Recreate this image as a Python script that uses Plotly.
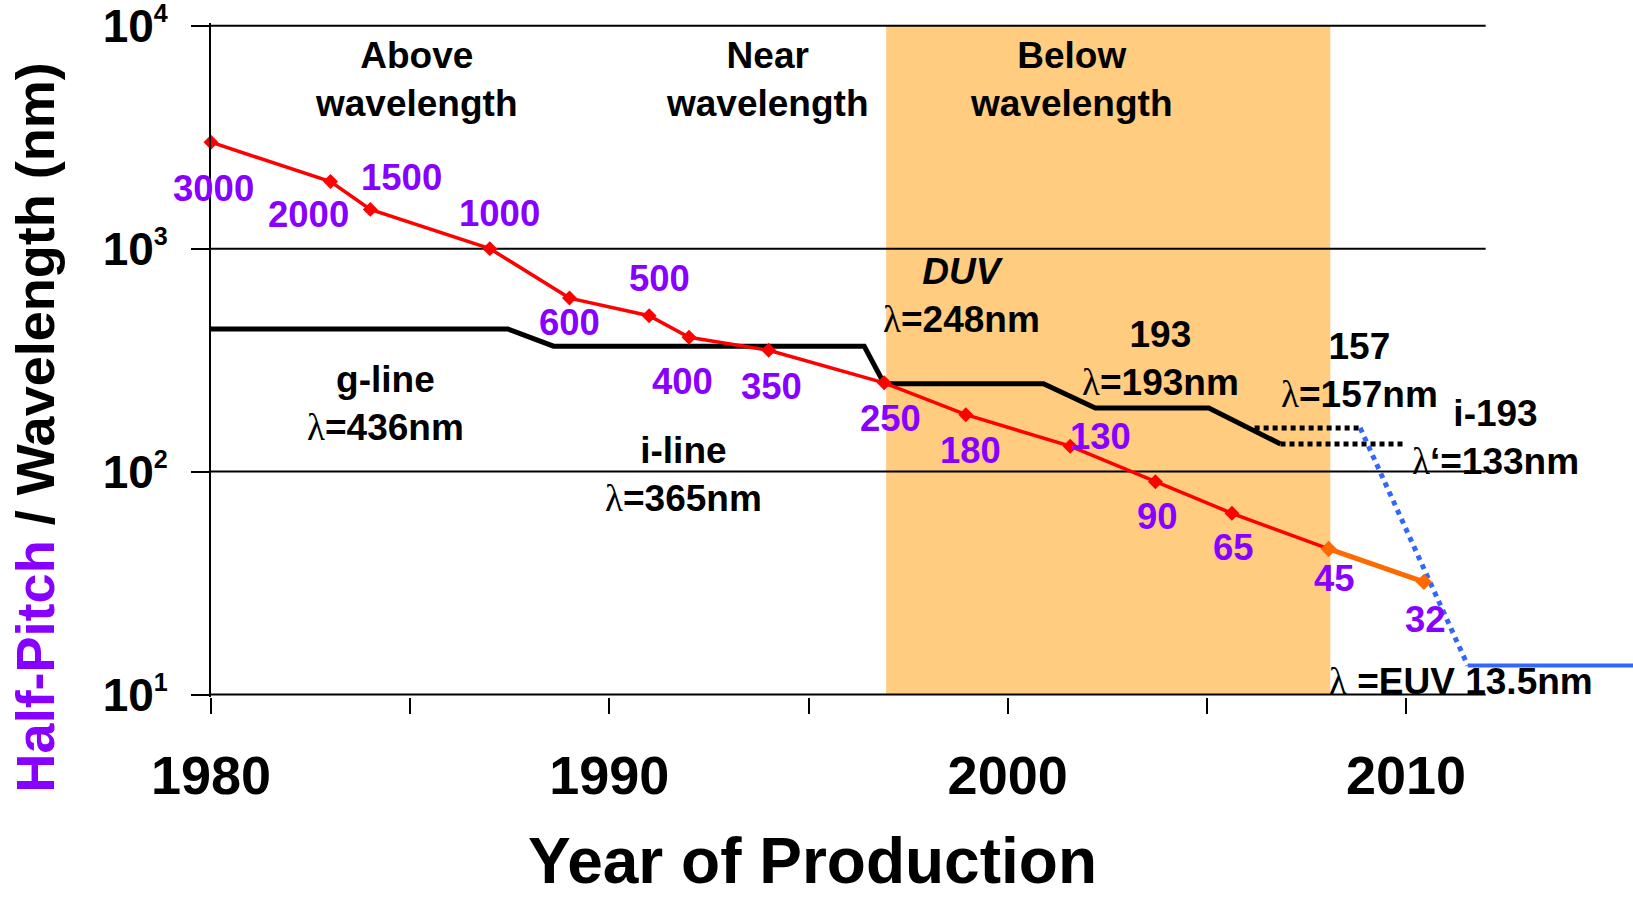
import math
import plotly.graph_objects as go

# ---------------- data ----------------
# Half-pitch roadmap nodes (nm) by year of production
hp_years = [1980, 1983, 1984, 1987, 1989, 1991, 1992, 1994, 1996.9, 1998.95,
            2001.57, 2003.71, 2005.63, 2008.06, 2010.45]
hp_nm = [3000, 2000, 1500, 1000, 600, 500, 400, 350, 250, 180, 130, 90, 65, 45, 32]
hp_labels = [str(v) for v in hp_nm]
n_red = 14  # nodes on the red segment (through 45 nm); 45 -> 32 is the orange segment

# Exposure wavelength steps (nm): g-line, i-line, KrF 248, ArF 193
litho_years = [1980, 1987.45, 1988.6, 1996.4, 1996.9, 2000.9, 2002.2, 2005.05, 2006.85]
litho_nm = [436, 436, 365, 365, 248, 248, 193, 193, 133]

# Alternatives after 193 nm
f2_years, f2_nm = [2006.2, 2008.85], [157, 157]
i193_years, i193_nm = [2006.85, 2009.95], [133, 133]
euv_ramp_years, euv_ramp_nm = [2008.85, 2011.55], [157, 13.5]
euv_years, euv_nm = [2011.55, 2016.5], [13.5, 13.5]

# "Below wavelength" era
below_era = [1996.95, 2008.1]

grid_decades = [10, 100, 1000, 10000]
grid_span = [1980, 2012]

x_tickvals = [1980, 1985, 1990, 1995, 2000, 2005, 2010]
x_ticktext = ["1980", "", "1990", "", "2000", "", "2010"]
y_tickvals = [10, 100, 1000, 10000]
y_exponents = ["1", "2", "3", "4"]

# ---------------- styling / layout ----------------
W, H = 1633, 897
ML, MR, MT, MB = 211, 0, 23, 200
X_RANGE = [1980, 2015.699]
Y_RANGE = [0.9888, 4.0121]

FONT = "Liberation Sans, Arial, Helvetica, sans-serif"
PURPLE = "#8800FF"
RED = "#FF0000"
ORANGE = "#FF6A00"
BLUE = "#3366FF"
SHADE = "#FFCC80"
LAMBDA = '<span style="font-family:Liberation Serif, Times New Roman, serif;font-weight:normal">λ</span>'

y_ticktext = ['10<sup><span style="font-size:78%%">%s</span></sup>' % e for e in y_exponents]

# label offsets from each node, in pixels (right, down)
hp_label_dx = [2, -22, 31, 10, 0, 10, -7, 3, 6, 4.5, 30, 2, 1.6, 6, 2]
hp_label_dy = [46, 33, -32, -35, 24, -37.5, 44, 36, 36, 35.5, -10, 34.5, 34, 30, 38]


def paper(px, py):
    """Canvas pixel -> paper coordinates."""
    return (px - ML) / (W - ML - MR), (H - MB - py) / (H - MT - MB)


fig = go.Figure()

# shaded era
fig.add_trace(go.Scatter(
    x=[below_era[0], below_era[1], below_era[1], below_era[0], below_era[0]],
    y=[grid_decades[0], grid_decades[0], grid_decades[-1], grid_decades[-1], grid_decades[0]],
    fill="toself", fillcolor=SHADE, mode="lines", line=dict(width=0),
    hoverinfo="skip", showlegend=False))

# horizontal decade lines
gx, gy = [], []
for d in grid_decades:
    gx += [grid_span[0], grid_span[1], None]
    gy += [d, d, None]
fig.add_trace(go.Scatter(x=gx, y=gy, mode="lines", line=dict(color="black", width=2),
                         hoverinfo="skip", showlegend=False))

# wavelength steps
fig.add_trace(go.Scatter(x=litho_years, y=litho_nm, mode="lines",
                         line=dict(color="black", width=5), showlegend=False))
fig.add_trace(go.Scatter(x=f2_years, y=f2_nm, mode="lines",
                         line=dict(color="black", width=5, dash="5px,4px"), showlegend=False))
fig.add_trace(go.Scatter(x=i193_years, y=i193_nm, mode="lines",
                         line=dict(color="black", width=5, dash="5px,4px"), showlegend=False))
fig.add_trace(go.Scatter(x=euv_ramp_years, y=euv_ramp_nm, mode="lines",
                         line=dict(color=BLUE, width=5, dash="5px,5px"), showlegend=False))
fig.add_trace(go.Scatter(x=euv_years, y=euv_nm, mode="lines",
                         line=dict(color=BLUE, width=4), showlegend=False))

# half-pitch trend
fig.add_trace(go.Scatter(
    x=hp_years[:n_red], y=hp_nm[:n_red], mode="lines+markers",
    line=dict(color=RED, width=3.5),
    marker=dict(symbol="diamond", size=11.5, color=RED),
    cliponaxis=False, showlegend=False))
fig.add_trace(go.Scatter(
    x=hp_years[n_red - 1:], y=hp_nm[n_red - 1:], mode="lines+markers",
    line=dict(color=ORANGE, width=5),
    marker=dict(symbol="diamond", size=12.5, color=ORANGE),
    cliponaxis=False, showlegend=False))

annotations = []

# half-pitch value labels
for yr, v, lab, dx, dy in zip(hp_years, hp_nm, hp_labels, hp_label_dx, hp_label_dy):
    annotations.append(dict(
        x=yr, y=math.log10(v), xref="x", yref="y", text=lab, showarrow=False,
        xshift=dx, yshift=-dy, xanchor="center", yanchor="middle",
        font=dict(family=FONT, size=36.5, color=PURPLE, weight="bold")))

# region and wavelength text (canvas pixel centres)
notes = [
    ("Above<br>wavelength", 416, 79.5),
    ("Near<br>wavelength", 767.5, 79.5),
    ("Below<br>wavelength", 1071.3, 79.5),
    ("<i>DUV</i><br>" + LAMBDA + "=248nm", 961, 295.7),
    ("193<br>" + LAMBDA + "=193nm", 1160.8, 358.6),
    ("157<br>" + LAMBDA + "=157nm", 1359, 370.8),
    ("i-193<br>" + LAMBDA + "‘=133nm", 1495.2, 437.3),
    ("g-line<br>" + LAMBDA + "=436nm", 385, 403.2),
    ("i-line<br>" + LAMBDA + "=365nm", 683.8, 474.9),
    (LAMBDA + " =EUV 13.5nm", 1461.2, 681),
]
for txt, px, py in notes:
    xp, yp = paper(px, py)
    annotations.append(dict(
        x=xp, y=yp, xref="paper", yref="paper", text=txt, showarrow=False,
        xanchor="center", yanchor="middle",
        font=dict(family=FONT, size=37, color="black", weight="bold")))

# axis titles
xp, yp = paper(35.4, 427)
annotations.append(dict(
    x=xp, y=yp, xref="paper", yref="paper", textangle=-90, showarrow=False,
    xanchor="center", yanchor="middle",
    text='<span style="color:%s">Half-Pitch</span> / Wavelength (nm)' % PURPLE,
    font=dict(family=FONT, size=54, color="black", weight="bold")))
xp, yp = paper(812, 861)
annotations.append(dict(
    x=xp, y=yp, xref="paper", yref="paper", text="Year of Production", showarrow=False,
    xanchor="center", yanchor="middle",
    font=dict(family=FONT, size=64, color="black", weight="bold")))

fig.update_layout(
    width=W, height=H,
    margin=dict(l=ML, r=MR, t=MT, b=MB, pad=0),
    paper_bgcolor="white", plot_bgcolor="white",
    showlegend=False,
    annotations=annotations,
    xaxis=dict(
        range=X_RANGE, tickvals=x_tickvals, ticktext=x_ticktext,
        ticks="outside", ticklen=16, tickwidth=2, tickcolor="black",
        showline=False, showgrid=False, zeroline=False,
        ticklabelstandoff=15,
        tickfont=dict(family=FONT, size=54, color="black", weight="bold")),
    yaxis=dict(
        type="log", range=Y_RANGE, tickvals=y_tickvals, ticktext=y_ticktext,
        ticks="outside", ticklen=18, tickwidth=2, tickcolor="black",
        showline=True, linewidth=2, linecolor="black",
        showgrid=False, zeroline=False,
        ticklabelstandoff=14, ticklabeloverflow="allow",
        tickfont=dict(family=FONT, size=46, color="black", weight="bold")),
)

fig.write_html("out.html")
